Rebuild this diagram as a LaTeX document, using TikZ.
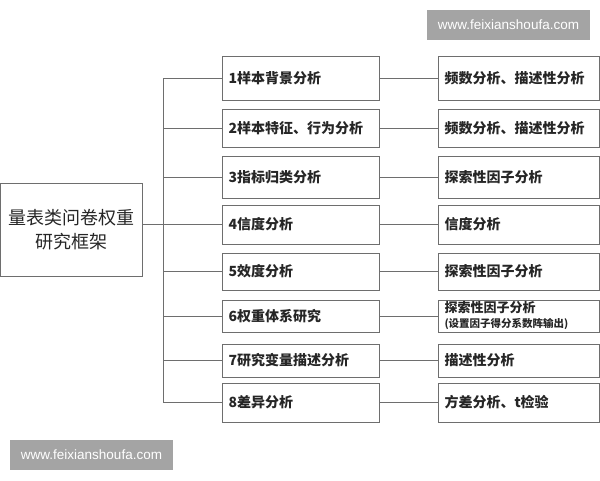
\documentclass[tikz,border=0pt]{standalone}
\usepackage{fontspec}
\usepackage{tikz}
\newfontfamily\cjk{Noto Sans CJK SC}
\setsansfont{Liberation Sans}
\definecolor{boxline}{HTML}{6E6E6E}
\definecolor{wmgray}{HTML}{A4A4A4}

\begin{document}
\begin{tikzpicture}[x=1pt,y=-1pt,
  step item/.style={draw=boxline,line width=1pt,anchor=west,text=black!85,
    text width=145pt,inner xsep=6pt,inner ysep=2pt,align=left,
    font=\cjk\bfseries\fontsize{14}{16}\selectfont},
  method/.style={step item,text width=149pt},
  root/.style={draw=boxline,line width=1pt,anchor=north west,text=black!85,
    minimum width=142pt,minimum height=93pt,align=center,
    font=\cjk\fontsize{18}{24}\selectfont},
  wmark/.style={fill=wmgray,text=white,minimum width=163pt,minimum height=30pt,
    inner sep=0pt,font=\sffamily\fontsize{13.5}{15}\selectfont},
  link/.style={draw=boxline,line width=1pt}]
\useasboundingbox (0,0) rectangle (600,480);
\node[wmark] (wm1) at (508.5,25) {www.feixianshoufa.com};
\node[wmark] (wm2) at (91.5,455) {www.feixianshoufa.com};
\node[root] (frame) at (0,183) {量表类问卷权重\\研究框架};
\coordinate (trunk) at (163,0);
% analysis steps
\node[step item,minimum height=44pt] (s1) at (222,78) {1样本背景分析};
\node[step item,minimum height=38pt] (s2) at (222,128) {2样本特征、行为分析};
\node[step item,minimum height=42pt] (s3) at (222,177) {3指标归类分析};
\node[step item,minimum height=39pt] (s4) at (222,224.5) {4信度分析};
\node[step item,minimum height=37pt] (s5) at (222,271.5) {5效度分析};
\node[step item,minimum height=32pt] (s6) at (222,316) {6权重体系研究};
\node[step item,minimum height=33pt] (s7) at (222,360.5) {7研究变量描述分析};
\node[step item,minimum height=39pt] (s8) at (222,402.5) {8差异分析};
% methods
\node[method,minimum height=44pt] (m1) at (438,78) {频数分析、描述性分析};
\node[method,minimum height=38pt] (m2) at (438,128) {频数分析、描述性分析};
\node[method,minimum height=42pt] (m3) at (438,177) {探索性因子分析};
\node[method,minimum height=39pt] (m4) at (438,224.5) {信度分析};
\node[method,minimum height=37pt] (m5) at (438,271.5) {探索性因子分析};
\node[method,minimum height=32pt,inner ysep=0pt] (m6) at (438,316) {\fontsize{13}{14}\selectfont 探索性因子分析\\[-1pt]\fontsize{10.5}{12}\selectfont (设置因子得分系数阵输出)};
\node[method,minimum height=33pt] (m7) at (438,360.5) {描述性分析};
\node[method,minimum height=39pt] (m8) at (438,402.5) {方差分析、t检验};
\draw[link] (frame.east |- s4.west) -- (s4.west -| trunk);
\draw[link] (s1.west) -- (s1.west -| trunk) -- (s8.west -| trunk) -- (s8.west);
\draw[link] (s2.west -| trunk) -- (s2.west);
\draw[link] (s3.west -| trunk) -- (s3.west);
\draw[link] (s4.west -| trunk) -- (s4.west);
\draw[link] (s5.west -| trunk) -- (s5.west);
\draw[link] (s6.west -| trunk) -- (s6.west);
\draw[link] (s7.west -| trunk) -- (s7.west);
\draw[link] (s1.east) -- (m1.west);
\draw[link] (s2.east) -- (m2.west);
\draw[link] (s3.east) -- (m3.west);
\draw[link] (s4.east) -- (m4.west);
\draw[link] (s5.east) -- (m5.west);
\draw[link] (s6.east) -- (m6.west);
\draw[link] (s7.east) -- (m7.west);
\draw[link] (s8.east) -- (m8.west);
\end{tikzpicture}
\end{document}
